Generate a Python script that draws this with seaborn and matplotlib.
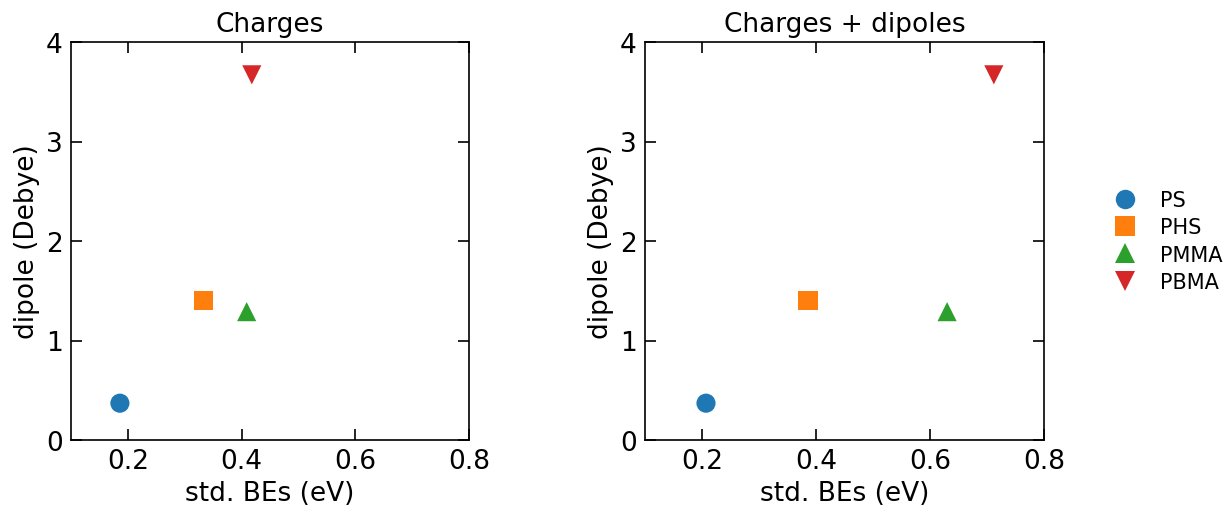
import matplotlib
matplotlib.use("Agg")
import matplotlib.pyplot as plt
import seaborn as sns
import pandas as pd

polymers = ["PS", "PHS", "PMMA", "PBMA"]
dipole = [0.37, 1.40, 1.29, 3.67]
std_be_charges = [0.186, 0.333, 0.409, 0.418]
std_be_charges_dipoles = [0.207, 0.386, 0.630, 0.712]
panel_titles = ["Charges", "Charges + dipoles"]

sns.set_style("white")
plt.rcParams["font.family"] = ["DejaVu Sans"]
plt.rcParams["text.color"] = "black"
plt.rcParams["axes.labelcolor"] = "black"
plt.rcParams["xtick.color"] = "black"
plt.rcParams["ytick.color"] = "black"

colors = dict(zip(polymers, sns.color_palette("tab10", 4)))
markers = dict(zip(polymers, ["o", "s", "^", "v"]))

fig = plt.figure(figsize=(12.28, 5.06), dpi=100)
W, H = 1228, 506
ax1 = fig.add_axes([71 / W, (H - 441) / H, 398 / W, 398 / H])
ax2 = fig.add_axes([645 / W, (H - 441) / H, 399 / W, 398 / H])

for ax, xs, title in zip([ax1, ax2], [std_be_charges, std_be_charges_dipoles], panel_titles):
    df = pd.DataFrame({"polymer": polymers, "std": xs, "dipole": dipole})
    sns.scatterplot(data=df, x="std", y="dipole", hue="polymer", style="polymer",
                    palette=colors, markers=markers, s=190, edgecolor="none",
                    ax=ax, legend=(ax is ax2))
    ax.set_xlim(0.1, 0.8)
    ax.set_ylim(0, 4)
    ax.set_xticks([0.2, 0.4, 0.6, 0.8])
    ax.set_yticks([0, 1, 2, 3, 4])
    ax.set_title(title, fontsize=19, pad=8)
    ax.set_xlabel("std. BEs (eV)", fontsize=19, labelpad=4)
    ax.set_ylabel("dipole (Debye)", fontsize=19, labelpad=4)
    ax.tick_params(direction="in", length=8, width=1.2, labelsize=19,
                   top=True, right=True, bottom=True, left=True, pad=6)
    for sp in ax.spines.values():
        sp.set_linewidth(1.2)
        sp.set_color("black")

leg = ax2.legend(loc="center left", bbox_to_anchor=(1.105, 0.5), frameon=False,
                 fontsize=15, handletextpad=0.65, labelspacing=0.35)
for h in leg.legend_handles:
    if hasattr(h, "set_markersize"):
        h.set_markersize(14)

fig.savefig("out.png", dpi=100)
